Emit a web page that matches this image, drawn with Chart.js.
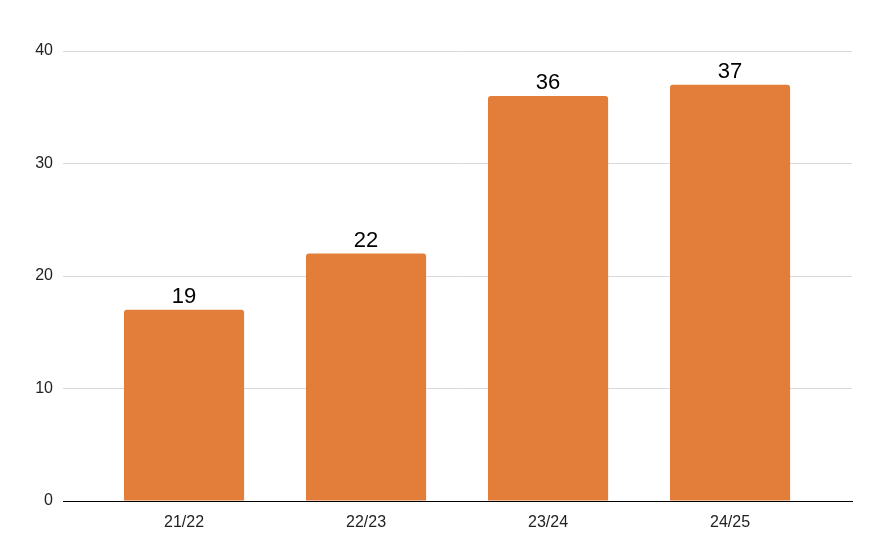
<!DOCTYPE html>
<html>
<head>
<meta charset="utf-8">
<script src="https://cdn.jsdelivr.net/npm/chart.js@4/dist/chart.umd.min.js"></script>
<style>
  html, body { margin: 0; padding: 0; background: #fff; }
  #wrap { width: 879px; height: 550px; }
</style>
</head>
<body>
<div id="wrap"><canvas id="chart"></canvas></div>
<script>
// data
const seasons = ['21/22', '22/23', '23/24', '24/25'];
const counts = [17, 22, 36, 37];
// labels printed above the bars (first one does not match its bar in the original)
const barLabels = ['19', '22', '36', '37'];
const yTicks = [0, 10, 20, 30, 40];

const FONT = 'Arial, "Liberation Sans", Helvetica, sans-serif';

// draw the value text over each bar
const valueLabels = {
  id: 'valueLabels',
  afterDatasetsDraw(chart) {
    let ctx = chart.ctx;
    let meta = chart.getDatasetMeta(0);
    ctx.save();
    ctx.font = '22px ' + FONT;
    ctx.fillStyle = '#000';
    ctx.textAlign = 'center';
    ctx.textBaseline = 'alphabetic';
    meta.data.forEach((bar, i) => {
      ctx.fillText(barLabels[i], bar.x, bar.y - 7);
    });
    ctx.restore();
  }
};

new Chart(document.getElementById('chart'), {
  type: 'bar',
  data: {
    datasets: [{
      data: counts.map((v, i) => ({ x: i, y: v })),
      backgroundColor: '#e37e3a',
      borderRadius: { topLeft: 3, topRight: 3 },
      borderSkipped: 'bottom',
      categoryPercentage: 0.66,
      barPercentage: 1
    }]
  },
  options: {
    responsive: true,
    maintainAspectRatio: false,
    animation: false,
    layout: { padding: { top: 51, right: 27, left: 0, bottom: 0 } },
    plugins: {
      legend: { display: false },
      tooltip: { enabled: false }
    },
    scales: {
      x: {
        type: 'linear',
        offset: false,
        min: -0.665,
        max: 3.67,
        afterBuildTicks: (scale) => {
          scale.ticks = seasons.map((s, i) => ({ value: i }));
        },
        afterFit: (scale) => { scale.height = 49; },
        grid: { display: false },
        border: { display: true, color: '#000', width: 1 },
        ticks: {
          padding: 4,
          color: '#222',
          font: { size: 16, family: FONT },
          callback: (v) => seasons[v]
        }
      },
      y: {
        min: 0,
        max: 40,
        afterBuildTicks: (scale) => {
          scale.ticks = yTicks.map(v => ({ value: v }));
        },
        afterFit: (scale) => { scale.width = 63; },
        grid: { color: '#d9d9d9', drawTicks: false },
        border: { display: false },
        ticks: {
          padding: 10,
          color: '#222',
          font: { size: 16, family: FONT }
        }
      }
    }
  },
  plugins: [valueLabels]
});
</script>
</body>
</html>
